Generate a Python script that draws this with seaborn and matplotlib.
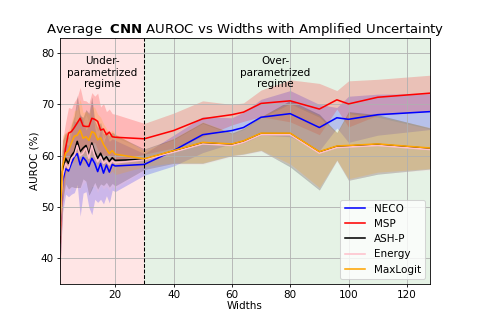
import numpy as np
import pandas as pd
import matplotlib
matplotlib.use("Agg")
import matplotlib.pyplot as plt
import seaborn as sns

# ---- data ----
widths = [1, 2, 3, 4, 5, 6, 7, 8, 9, 10, 11, 12, 13, 14, 15, 16, 17, 18, 19, 20,
          30, 40, 50, 60, 64, 70, 80, 90, 96, 100, 110, 128]
methods = ["NECO", "MSP", "ASH-P", "Energy", "MaxLogit"]
colors = ["blue", "red", "black", "pink", "orange"]

neco_mean = [45.5, 55.0, 57.5, 57.0, 58.5, 59.8, 60.4, 58.2, 59.7, 59.0, 57.9, 59.5, 58.5, 56.9, 58.5, 56.6, 58.2, 56.8, 58.3, 58.0,
             58.3, 61.0, 64.1, 64.9, 65.5, 67.5, 68.2, 65.5, 67.4, 67.1, 68.0, 68.6]
msp_mean = [43.0, 57.0, 61.5, 64.4, 64.7, 65.5, 66.4, 67.3, 65.8, 65.7, 65.7, 67.3, 67.1, 66.7, 65.0, 65.2, 64.1, 64.6, 63.7, 63.6,
            63.3, 64.9, 67.2, 68.0, 68.5, 70.2, 70.7, 69.1, 70.9, 70.1, 71.4, 72.2]
ashp_mean = [45.0, 57.0, 59.5, 58.5, 60.0, 60.8, 62.8, 60.8, 61.5, 62.0, 60.3, 62.5, 60.8, 59.5, 60.5, 59.2, 59.8, 58.9, 59.6, 59.1,
             59.3, 60.9, 62.5, 62.2, 62.8, 64.3, 64.3, 60.7, 61.8, 61.9, 62.2, 61.4]
energy_mean = [44.5, 56.0, 58.5, 57.5, 59.5, 60.0, 62.0, 60.0, 60.5, 61.5, 59.5, 62.0, 60.0, 58.8, 59.8, 58.5, 59.0, 58.2, 59.0, 58.6,
               59.2, 60.7, 62.3, 62.0, 62.6, 64.1, 64.1, 60.5, 61.6, 61.7, 62.0, 61.2]
maxlogit_mean = [46.5, 58.0, 60.5, 61.0, 62.5, 63.8, 64.0, 65.0, 63.4, 63.7, 63.0, 64.7, 64.4, 63.1, 63.5, 62.2, 61.3, 60.4, 61.0, 60.3,
                 59.4, 61.0, 62.6, 62.3, 62.9, 64.4, 64.4, 60.8, 61.9, 62.0, 62.3, 61.5]

neco_std = [8, 6, 5, 5, 6, 7, 6, 10, 7, 6, 8, 11, 7, 6, 7, 6, 6, 6, 5, 5,
            2.1, 3.0, 3.5, 2.5, 3.0, 3.5, 4.5, 4.5, 2.0, 4.5, 4.0, 3.5]
msp_std = [8, 6, 5, 5, 4.5, 5, 5, 6, 5, 5, 4.5, 5, 4.5, 5.5, 4.5, 5, 4.5, 4.5, 4.5, 4.5,
           3.0, 3.4, 3.5, 2.0, 1.8, 2.6, 4.1, 5.0, 1.8, 4.5, 3.5, 3.5]
ashp_std = [8, 6, 5, 5, 6, 7, 9, 7, 6, 7, 8, 9, 6, 6, 6, 5, 5, 5, 5, 5,
            2.0, 2.4, 4.0, 2.2, 2.5, 3.3, 6.5, 7.4, 2.7, 6.7, 5.8, 4.0]
energy_std = [8, 6, 5, 5, 5.5, 6.5, 8, 6.5, 6, 6.5, 7, 8, 6, 6, 5.5, 5, 5, 5, 5, 5,
              2.0, 2.4, 4.0, 2.2, 2.5, 3.3, 6.0, 7.0, 2.7, 6.5, 5.5, 4.0]
maxlogit_std = [8, 6, 4, 4, 4, 5, 5, 6, 5, 5, 5, 5, 5, 5, 4, 4, 4, 4, 4, 4,
                1.5, 2.4, 4.0, 2.2, 2.5, 3.3, 6.0, 7.0, 2.7, 6.5, 5.5, 4.0]

means = [neco_mean, msp_mean, ashp_mean, energy_mean, maxlogit_mean]
stds = [neco_std, msp_std, ashp_std, energy_std, maxlogit_std]

rows = []
for m, vals in zip(methods, means):
    for w, v in zip(widths, vals):
        rows.append({"Width": w, "AUROC": v, "Method": m})
df = pd.DataFrame(rows)

plt.rcParams["xtick.major.size"] = 2.6
plt.rcParams["ytick.major.size"] = 2.6
plt.rcParams["xtick.major.pad"] = 3.0
plt.rcParams["ytick.major.pad"] = 3.0

# ---- figure ----
fig, ax = plt.subplots(figsize=(478 / 75, 319 / 75), dpi=75)

ax.axvspan(1, 30, color="red", alpha=0.1, lw=0)
ax.axvspan(30, 128, color="green", alpha=0.1, lw=0)

for m, c, mu, sd in zip(methods, colors, means, stds):
    mu = np.array(mu)
    sd = np.array(sd)
    ax.fill_between(widths, mu - sd, mu + sd, color=c, alpha=0.2, lw=0)

sns.lineplot(data=df, x="Width", y="AUROC", hue="Method", hue_order=methods,
             palette=dict(zip(methods, colors)), ax=ax, errorbar=None, linewidth=1.5)

ax.axvline(30, color="black", linestyle="--", linewidth=1)
ax.text(15.5, 76.2, "Under-\nparametrized\nregime", ha="center", va="center", fontsize=10)
ax.text(75, 76.2, "Over-\nparametrized\nregime", ha="center", va="center", fontsize=10)

ax.set_xlim(1, 128)
ax.set_ylim(35, 82.9)
ax.grid(True)
ax.set_xlabel("Widths", labelpad=1.5)
ax.set_ylabel("AUROC (%)", labelpad=1.5)
ax.set_title(r"Average  $\bf{CNN}$ AUROC vs Widths with Amplified Uncertainty", fontsize=12.7, pad=5)
sns.move_legend(ax, "lower right", title=None)

fig.savefig("out.png", dpi=75)
